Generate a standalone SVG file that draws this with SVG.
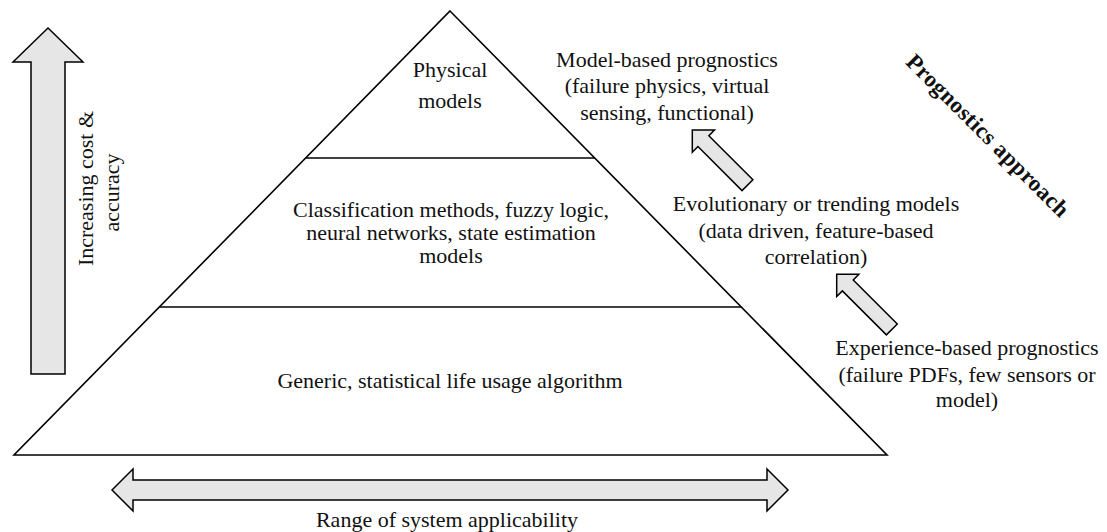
<svg xmlns="http://www.w3.org/2000/svg" width="1107" height="532" viewBox="0 0 1107 532">
  <style>
    .t { font-family: "Liberation Serif", "Times New Roman", serif; font-size: 22px; fill: #111; text-anchor: middle; }
    .b { font-family: "Liberation Serif", "Times New Roman", serif; font-size: 23px; font-weight: bold; fill: #111; text-anchor: middle; letter-spacing: 0.4px; }
    .ln { stroke: #000; stroke-width: 1.6; fill: none; }
    .arr { fill: #e6e6e6; stroke: #000; stroke-width: 1.5; stroke-linejoin: miter; }
  </style>
  <defs>
    <polygon id="diagArrow" points="0,0 15.7,-15.7 15.7,-7.7 78,-7.7 78,7.7 15.7,7.7 15.7,15.7"/>
  </defs>
  <rect width="1107" height="532" fill="#fff"/>

  <g id="pyramid">
    <polygon class="ln" points="450,11 887,455 14,455"/>
    <line class="ln" x1="305.8" y1="158" x2="594.7" y2="158"/>
    <line class="ln" x1="159.6" y1="307" x2="741.4" y2="307"/>
  </g>

  <g id="tier-physical">
    <text class="t" x="450" y="76.7">Physical</text>
    <text class="t" x="450" y="108.3">models</text>
  </g>

  <g id="tier-classification">
    <text class="t" x="451" y="217.3">Classification methods, fuzzy logic,</text>
    <text class="t" x="451" y="240">neural networks, state estimation</text>
    <text class="t" x="451" y="262.7">models</text>
  </g>

  <g id="tier-generic">
    <text class="t" x="450" y="388.3">Generic, statistical life usage algorithm</text>
  </g>

  <g id="model-based">
    <text class="t" x="667" y="66.7">Model-based prognostics</text>
    <text class="t" x="667" y="93.3">(failure physics, virtual</text>
    <text class="t" x="667" y="120">sensing, functional)</text>
  </g>

  <g id="evolutionary">
    <text class="t" x="816" y="210.7">Evolutionary or trending models</text>
    <text class="t" x="816" y="237.7">(data driven, feature-based</text>
    <text class="t" x="816" y="264">correlation)</text>
  </g>

  <g id="experience">
    <text class="t" x="967" y="355">Experience-based prognostics</text>
    <text class="t" x="967" y="381.5">(failure PDFs, few sensors or</text>
    <text class="t" x="967" y="407">model)</text>
  </g>

  <g id="approach-label">
    <text class="b" transform="translate(982.5,141) rotate(45)" x="0" y="0">Prognostics approach</text>
  </g>

  <g id="cost-axis">
    <polygon class="arr" points="48,28 83,62 65,62 65,374 31,374 31,62 13,62"/>
    <text class="t" transform="translate(93.3,188.5) rotate(-90)" x="0" y="0">Increasing cost &amp;</text>
    <text class="t" transform="translate(119.3,192.5) rotate(-90)" x="0" y="0">accuracy</text>
  </g>

  <g id="range-axis">
    <polygon class="arr" points="112,490 133,469 133,480 767,480 767,469 788,490 767,511 767,500 133,500 133,511"/>
    <text class="t" x="447" y="527">Range of system applicability</text>
  </g>

  <g id="connectors">
    <use href="#diagArrow" class="arr" transform="translate(692.3,130) rotate(45)"/>
    <use href="#diagArrow" class="arr" transform="translate(836.7,274.3) rotate(45)"/>
  </g>
</svg>
